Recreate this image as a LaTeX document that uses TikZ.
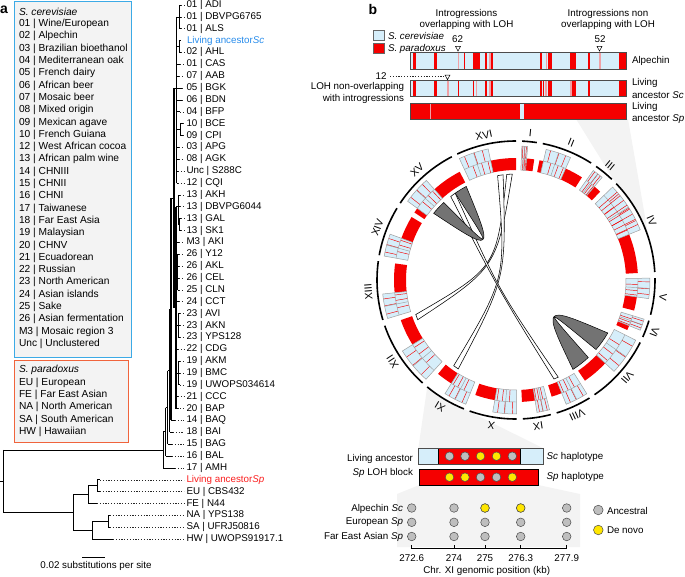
\documentclass[tikz,border=0pt]{standalone}
\usepackage{fontspec}
\setmainfont{Liberation Sans}
\usetikzlibrary{calc}
\definecolor{lblue}{RGB}{214,238,250}
\definecolor{sred}{RGB}{245,0,0}
\definecolor{pinkred}{RGB}{240,160,165}
\definecolor{boxblue}{RGB}{60,170,230}
\definecolor{boxorange}{RGB}{240,100,60}
\definecolor{lgray}{RGB}{243,243,243}
\definecolor{ancblue}{RGB}{40,140,235}
\definecolor{ancred}{RGB}{250,30,30}
\definecolor{dotgray}{RGB}{190,190,190}
\definecolor{dotyellow}{RGB}{255,230,0}
\definecolor{ribgray}{RGB}{115,115,115}
\newcommand{\YY}[1]{5+11.87*(#1)}
\newcommand{\csec}[5]{%
  \path[#1] ($(C)+({#2-90}:#5)$) arc[start angle={#2-90}, end angle={#3-90}, radius=#5]
    -- ($(C)+({#3-90}:#4)$) arc[start angle={#3-90}, end angle={#2-90}, radius=#4] -- cycle;}
\newcommand{\bbx}[2]{%
  \csec{fill=lblue}{#1}{#2}{110}{134}
  \foreach \f in {0.18,0.52,0.8}{\draw[rl] ($(C)+({#1+(#2-#1)*\f-90}:122)$) -- ($(C)+({#1+(#2-#1)*\f-90}:134)$);}
  \foreach \f in {0.33,0.66,0.9}{\draw[rl] ($(C)+({#1+(#2-#1)*\f-90}:110)$) -- ($(C)+({#1+(#2-#1)*\f-90}:122)$);}
  \draw[gline] ($(C)+({(#1+#2)/2-90}:110)$) -- ($(C)+({(#1+#2)/2-90}:134)$);
  \draw[gline] ($(C)+({#1-90}:122)$) arc[start angle={#1-90}, end angle={#2-90}, radius=122];
  \csec{draw=gray!75, line width=0.5pt}{#1}{#2}{110}{134}}
\newcommand{\rib}[6]{%
  \path[#1] ($(C)+({#2-90}:106)$) arc[start angle={#2-90}, end angle={#3-90}, radius=106]
    .. controls ($(C)+({(#3+#4)/2-90}:#6)$) .. ($(C)+({#4-90}:106)$)
    arc[start angle={#4-90}, end angle={#5-90}, radius=106]
    .. controls ($(C)+({(#5+#2)/2-90}:#6)$) .. ($(C)+({#2-90}:106)$) -- cycle;}
\begin{document}
\begin{tikzpicture}[x=1pt,y=-1pt,
  every node/.style={inner sep=0pt,outer sep=0pt},
  font=\fontsize{9.8}{11.8}\selectfont,
  br/.style={line width=0.7pt,black},
  thk/.style={line width=1.1pt,black},
  ld/.style={line width=0.6pt,black!85,dash pattern=on 1.1pt off 1.7pt},
  chrarc/.style={line width=1.6pt,black},
  rl/.style={sred,line width=0.45pt},
  gline/.style={gray!75,line width=0.45pt},
  wribbon/.style={fill=white,draw=black,line width=0.55pt},
  gribbon/.style={fill=ribgray,draw=black,line width=0.5pt},
  bar/.style={draw=black!70,line width=0.6pt},
  dotg/.style={circle,draw=black!70,fill=dotgray,line width=0.5pt,minimum size=8.6pt},
  doty/.style={circle,draw=black!70,fill=dotyellow,line width=0.5pt,minimum size=8.6pt},
  panel/.style={font=\fontsize{14}{14}\selectfont\bfseries}]
\useasboundingbox (0,0) rectangle (685,576);
\coordinate (C) at (516,280);

% ================= light grey zoom funnels (behind everything) =================
\fill[lgray] (576,119) -- (628,119) -- ($(C)+({87-90}:139)$) arc[start angle={87-90}, end angle={46-90}, radius=139] -- cycle;
\fill[lgray] ($(C)+({219.7-90}:139)$) arc[start angle={219.7-90}, end angle={202-90}, radius=139] -- (543.3,448.3) -- (418.3,448.3) -- cycle;

% ================= panel a : legend =================
\node[panel] (pa) at (4,10) {a};
\draw[boxblue,fill=lgray,line width=1pt] (14,1.5) rectangle (131,357);
\draw[boxorange,fill=lgray,line width=1pt] (14,360) rectangle (128,442);
\begin{scope}[font=\fontsize{10.2}{12}\selectfont]
\node[anchor=west] (scT) at (19,11.5) {\itshape S. cerevisiae};
\foreach \t [count=\i from 0] in {{01 | Wine/European},{02 | Alpechin},{03 | Brazilian bioethanol},{04 | Mediterranean oak},{05 | French dairy},{06 | African beer},{07 | Mosaic beer},{08 | Mixed origin},{09 | Mexican agave},{10 | French Guiana},{12 | West African cocoa},{13 | African palm wine},{14 | CHNIII},{15 | CHNII},{16 | CHNI},{17 | Taiwanese},{18 | Far East Asia},{19 | Malaysian},{20 | CHNV},{21 | Ecuadorean},{22 | Russian},{23 | North American},{24 | Asian islands},{25 | Sake},{26 | Asian fermentation},{M3 | Mosaic region 3},{Unc | Unclustered}}
  {\node[anchor=west] (sc\i) at (19,{24+12.3*\i}) {\t};}
\node[anchor=west] (spT) at (19,370) {\itshape S. paradoxus};
\foreach \t [count=\i from 0] in {{EU | European},{FE | Far East Asian},{NA | North American},{SA | South American},{HW | Hawaiian}}
  {\node[anchor=west] (sp\i) at (19,{382.5+12.4*\i}) {\t};}
\end{scope}

% ================= panel a : tree =================
\foreach \t [count=\i from 0] in {{01 | ADI},{01 | DBVPG6765},{01 | ALS},{},{02 | AHL},{01 | CAS},{07 | AAB},{05 | BGK},{06 | BDN},{04 | BFP},{10 | BCE},{09 | CPI},{03 | APG},{08 | AGK},{Unc | S288C},{12 | CQI},{13 | AKH},{13 | DBVPG6044},{13 | GAL},{13 | SK1},{M3 | AKI},{26 | Y12},{26 | AKL},{26 | CEL},{25 | CLN},{24 | CCT},{23 | AVI},{23 | AKN},{23 | YPS128},{22 | CDG},{19 | AKM},{19 | BMC},{19 | UWOPS034614},{21 | CCC},{20 | BAP},{14 | BAQ},{18 | BAI},{15 | BAG},{16 | BAL},{17 | AMH},{},{EU | CBS432},{FE | N44},{NA | YPS138},{SA | UFRJ50816},{HW | UWOPS91917.1}}
  {\node[anchor=west] (t\i) at (186.5,{\YY{\i}}) {\t};}
\node[anchor=west,text=ancblue] (lasc) at (187,{\YY{3}}) {Living ancestor\textit{Sc}};
\node[anchor=west,text=ancred] (lasp) at (186.5,{\YY{40}}) {Living ancestor\textit{Sp}};
% leaf branches: index / parent x / tip x
\foreach \i/\px/\tx in {0/179/181,1/179/181,2/179/181,4/179/181,5/176.5/180,6/176.5/179,7/176.5/182,8/176.5/182,9/176.5/180,10/180/183,11/180/183,12/176.5/179,13/176.5/179,14/176.5/178,15/176.5/178,16/178/180,17/178/180,18/179/181,19/179/181,20/176/179,21/177.5/179,22/177.5/179,23/177.5/179,24/177.5/179,25/176/179,26/178/180,27/178/180,28/178/180,29/176/178,30/178/180,31/178/180,32/178/180,33/176/178,34/176/177.5,35/171/175,36/169.5/173,37/167.5/172,38/165.5/172,39/163.3/175,40/97/100,41/97/100,42/88/97,43/108/110,44/108/110,45/92/113}
  {\draw[br] (\px,{\YY{\i}}) -- (\tx,{\YY{\i}});
   \draw[ld] (\tx,{\YY{\i}}) -- (184,{\YY{\i}});}
\draw[br] (179,{\YY{3}}) -- (181,{\YY{3}});
% internal structure of the S. cerevisiae clade
\draw[br] (179,{\YY{0}}) -- (179,{\YY{2}});
\draw[br] (179,{\YY{3}}) -- (179,{\YY{4}});
\draw[br] (176.5,{\YY{1}}) -- (179,{\YY{1}});
\draw[br] (176.5,{\YY{3.5}}) -- (179,{\YY{3.5}});
\draw[br] (180,{\YY{10}}) -- (180,{\YY{11}});
\draw[br] (176.5,{\YY{10.5}}) -- (180,{\YY{10.5}});
\draw[thk] (176.5,{\YY{1}}) -- (176.5,{\YY{15}});
\draw[br] (174,88) -- (176.5,88);
\draw[br] (178,{\YY{16}}) -- (178,{\YY{18.5}});
\draw[br] (179,{\YY{18}}) -- (179,{\YY{19}});
\draw[br] (178,{\YY{18.5}}) -- (179,{\YY{18.5}});
\draw[br] (176,{\YY{17}}) -- (178,{\YY{17}});
\draw[br] (177.5,{\YY{21}}) -- (177.5,{\YY{24}});
\draw[br] (176,{\YY{22.5}}) -- (177.5,{\YY{22.5}});
\draw[br] (178,{\YY{26}}) -- (178,{\YY{28}});
\draw[br] (176,{\YY{27}}) -- (178,{\YY{27}});
\draw[br] (178,{\YY{30}}) -- (178,{\YY{32}});
\draw[br] (176,{\YY{31}}) -- (178,{\YY{31}});
\draw[thk] (176,{\YY{17}}) -- (176,{\YY{34}});
\draw[br] (174,307.7) -- (176,307.7);
\draw[thk] (174,88) -- (174,307.7);
\draw[br] (171,197.9) -- (174,197.9);
\draw[thk] (171,197.9) -- (171,{\YY{35}});
\draw[br] (169.5,309.2) -- (171,309.2);
\draw[br] (169.5,309.2) -- (169.5,{\YY{36}});
\draw[br] (167.5,370.8) -- (169.5,370.8);
\draw[br] (167.5,370.8) -- (167.5,{\YY{37}});
\draw[br] (165.5,407.5) -- (167.5,407.5);
\draw[br] (165.5,407.5) -- (165.5,{\YY{38}});
\draw[br] (163.3,431.8) -- (165.5,431.8);
\draw[br] (163.3,431.8) -- (163.3,{\YY{39}});
% root and S. paradoxus clade
\coordinate (root) at (3.5,481.2);
\draw[br] (3.5,449.9) -- (163.3,449.9);
\draw[br] (3.5,449.9) -- (3.5,512.5);
\draw[br] (0,481.2) -- (root);
\draw[br] (3.5,512.5) -- (73,512.5);
\draw[br] (73,494.6) -- (73,530.3);
\draw[br] (73,494.6) -- (88,494.6);
\draw[br] (88,485.75) -- (88,{\YY{42}});
\draw[br] (88,485.75) -- (97,485.75);
\draw[br] (97,{\YY{40}}) -- (97,{\YY{41}});
\draw[br] (73,530.3) -- (92,530.3);
\draw[br] (92,521.35) -- (92,{\YY{45}});
\draw[br] (92,521.35) -- (108,521.35);
\draw[br] (108,{\YY{43}}) -- (108,{\YY{44}});
% scale bar
\draw[line width=0.9pt] (82,557) -- (105,557);
\node (scl) at (96,566) {0.02 substitutions per site};

% ================= panel b =================
\node[panel] (pb) at (373,9) {b};
\draw[fill=lblue,draw=black!60,line width=0.5pt] (373,30) rectangle (384,40);
\node[anchor=west] (lsc) at (388,35.5) {\itshape S. cerevisiae};
\draw[fill=sred,draw=black!60,line width=0.5pt] (373,43.5) rectangle (384,53.5);
\node[anchor=west] (lsp) at (388,49) {\itshape S. paradoxus};

\node[align=center,font=\fontsize{9.8}{10.6}\selectfont] (h1) at (466.5,19.5) {Introgressions\\overlapping with LOH};
\node[align=center,font=\fontsize{9.8}{10.6}\selectfont] (h2) at (608,19.5) {Introgressions non\\overlapping with LOH};
\node (n62) at (457.5,39) {62};
\node (n52) at (600,39) {52};
\draw[line width=0.5pt,fill=white] (455.5,46.3) -- (460.5,46.3) -- (458,51) -- cycle;
\draw[line width=0.5pt,fill=white] (597,46.3) -- (602,46.3) -- (599.5,51) -- cycle;

% bars
\fill[lblue] (410.7,52.3) rectangle (626,69);
\foreach \a/\b/\c in {413.3/416/sred,434.3/436.7/sred,458.3/459.3/pinkred,464/465.3/sred,472.7/480/sred,485/486.7/sred,489/490.7/pinkred,490.7/493.3/sred,540/541.7/sred,546/547.3/pinkred,548.3/551.7/sred,570/576/sred,588.3/590/sred,599.3/601/pinkred,619.3/626/sred}
  {\fill[\c] (\a,52.3) rectangle (\b,69);}
\draw[bar] (410.7,52.3) rectangle (626,69);
\fill[lblue] (410.7,80) rectangle (626,96.7);
\foreach \a/\b/\c in {413.3/416/sred,434.3/436.7/sred,447/448.7/pinkred,458.3/459.3/sred,472.7/474/sred,476/477.3/pinkred,485/486.7/sred,489/490.7/pinkred,490.7/492.7/sred,540/541.7/sred,543.3/544.3/sred,545.3/546.7/pinkred,548.3/551.7/sred,570/571.7/pinkred,571.7/576/sred,588.3/590/sred,619.3/626/sred}
  {\fill[\c] (\a,80) rectangle (\b,96.7);}
\draw[bar] (410.7,80) rectangle (626,96.7);
\fill[sred] (410.7,103) rectangle (626,119);
\fill[pinkred] (430,103) rectangle (431,119);
\fill[lblue] (520,103) rectangle (524,119);
\draw[bar] (410.7,103) rectangle (626,119);
\node[anchor=west] (lab1) at (632,61) {Alpechin};
\node[anchor=west,align=left,font=\fontsize{9.8}{12.6}\selectfont] (lab2) at (632,88.3) {Living\\ancestor \textit{Sc}};
\node[anchor=west,align=left,font=\fontsize{9.8}{12.6}\selectfont] (lab3) at (632,113) {Living\\ancestor \textit{Sp}};
\node (n12) at (381,76.5) {12};
\coordinate (d12) at (445.5,76.5);
\draw[ld] (390,76.5) -- (d12);
\draw[line width=0.5pt,fill=white] (445,75) -- (450,75) -- (447.5,79.7) -- cycle;
\node[anchor=east,align=right,font=\fontsize{9.8}{11.4}\selectfont] (lohtxt) at (404,93) {LOH non-overlapping\\with introgressions};

% ---------------- circos ----------------
\foreach \p/\q in {5/8.6,11.1/13,24/32.7,40/43.6,68/86.7,98/104.5,112/114.2,133/145.6,158/163,171/177.2,190/199.5,212/219.7,238/250.8,264/277.8,290/301.1,303.6/306,318/332.5,348/360}
  {\csec{fill=sred}{\p}{\q}{110}{122}}
\foreach \p/\q in {2.5/5,13/24,35.2/40,46.1/68,89.2/98,107/112,116.7/133,148.1/158,165.5/171,179.7/190,202/212,222.2/238,253.3/264,280.3/290,306/318,335/348}
  {\bbx{\p}{\q}}
\foreach \g in {49,51,53.5,56,58,60.5,63,65.5}
  {\draw[rl] ($(C)+({\g-90}:110)$) -- ($(C)+({\g-90}:134)$);}
\foreach \a/\b/\lab [count=\k] in {2.5/8.6/I,11.1/32.7/II,35.2/43.6/III,46.1/86.7/IV,89.2/104.5/V,107/114.2/VI,116.7/145.6/VII,148.1/163/VIII,165.5/177.2/IX,179.7/199.5/X,202/219.7/XI,222.2/250.8/XII,253.3/277.8/XIII,280.3/301.1/XIV,303.6/332.5/XV,335/360/XVI}
  {\draw[chrarc] ($(C)+({\a-90}:139)$) arc[start angle={\a-90}, end angle={\b-90}, radius=139];
   \node[rotate={-(\a+\b)/2},font=\fontsize{10.5}{10.5}\selectfont] (chr\k) at ($(C)+({(\a+\b)/2-90}:148)$) {\lab};}
% links
\rib{wribbon}{248}{251}{355}{358}{23}
\rib{wribbon}{213}{216}{350}{353}{10}
\rib{wribbon}{156.5}{159}{322}{325}{20}
\rib{gribbon}{309}{317}{325}{332}{35}
\rib{gribbon}{120}{131}{137}{147.5}{36}

% ---------------- bottom panel ----------------
\fill[lgray] (419.3,485) -- (538.3,485) -- (580,494) -- (580,547) -- (397,547) -- (397,494) -- cycle;
\fill[lblue] (418.3,448.3) rectangle (543.3,464);
\draw[draw=black,fill=sred,line width=0.6pt] (438.7,448.3) rectangle (520,464);
\draw[bar] (418.3,448.3) rectangle (543.3,464);
\draw[draw=black,fill=sred,line width=0.6pt] (419.3,469.3) rectangle (538.3,485);
\foreach \x/\s [count=\k] in {449.5/dotg,465/dotg,480.5/doty,496.5/doty,512.3/dotg}
  {\node[\s] (hs\k) at (\x,456.2) {};}
\foreach \x/\s [count=\k] in {449.5/doty,465/doty,480.5/dotg,496.5/dotg,512.3/doty}
  {\node[\s] (hp\k) at (\x,477.2) {};}
\node[anchor=west] (schap) at (546.7,456.5) {\textit{Sc} haplotype};
\node[anchor=west] (sphap) at (546.7,477) {\textit{Sp} haplotype};
\node[anchor=east,align=right,font=\fontsize{9.8}{13.5}\selectfont] (lohblk) at (413,466) {Living ancestor\\\textit{Sp} LOH block};
\foreach \x [count=\k] in {411.7,454,485,520.7,566.7}
  {\node[dotg] (r1\k) at (\x,508) {};
   \node[dotg] (r2\k) at (\x,522.3) {};
   \node[dotg] (r3\k) at (\x,536.5) {};
   \draw[line width=0.6pt] (\x,545.2) -- (\x,548.3);}
\node[doty] (y1) at (485,508) {};
\node[doty] (y2) at (520.7,508) {};
\node[anchor=east] (rl1) at (403,508.5) {Alpechin \textit{Sc}};
\node[anchor=east] (rl2) at (403,522.5) {European \textit{Sp}};
\node[anchor=east] (rl3) at (403,536.7) {Far East Asian \textit{Sp}};
\draw[line width=0.7pt] (410.7,548.3) -- (567.3,548.3);
\foreach \x/\t in {411.7/272.6,454/274,485/275,520.7/276.3,566.7/277.9}
  {\node (tk\t) at (\x,558) {\t};}
\node (xtitle) at (486.7,570.5) {Chr. XI genomic position (kb)};
\node[dotg,minimum size=9.6pt] (lg1) at (598.3,510) {};
\node[anchor=west] (lg1t) at (607,510.5) {Ancestral};
\node[doty,minimum size=9.6pt] (lg2) at (598.3,530) {};
\node[anchor=west] (lg2t) at (607,530.5) {De novo};
\end{tikzpicture}
\end{document}
